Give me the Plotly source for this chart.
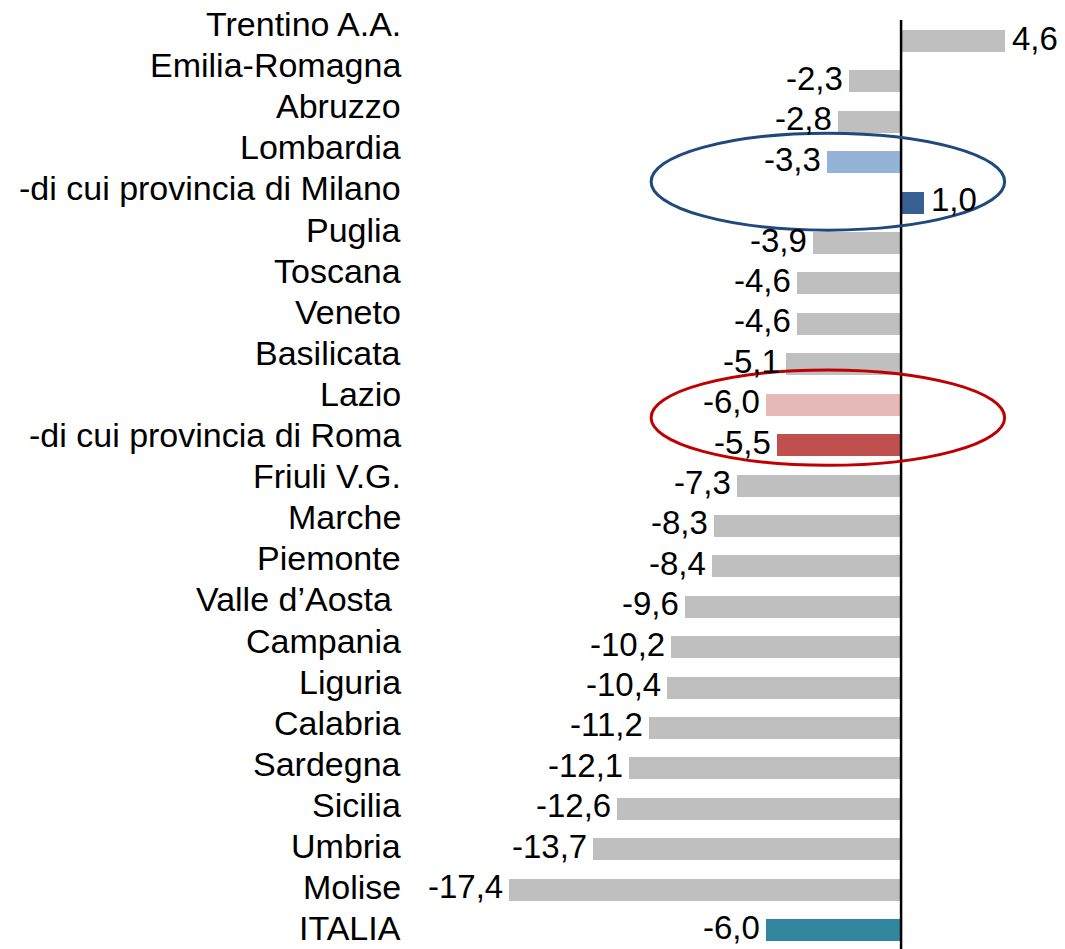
import plotly.graph_objects as go

categories = [
    "Trentino A.A.", "Emilia-Romagna", "Abruzzo", "Lombardia",
    "-di cui provincia di Milano", "Puglia", "Toscana", "Veneto",
    "Basilicata", "Lazio", "-di cui provincia di Roma", "Friuli V.G.",
    "Marche", "Piemonte", "Valle d\u2019Aosta\u00a0", "Campania", "Liguria",
    "Calabria", "Sardegna", "Sicilia", "Umbria", "Molise", "ITALIA",
]
values = [4.6, -2.3, -2.8, -3.3, 1.0, -3.9, -4.6, -4.6, -5.1, -6.0, -5.5,
          -7.3, -8.3, -8.4, -9.6, -10.2, -10.4, -11.2, -12.1, -12.6, -13.7,
          -17.4, -6.0]
value_labels = ["4,6", "-2,3", "-2,8", "-3,3", "1,0", "-3,9", "-4,6", "-4,6",
                "-5,1", "-6,0", "-5,5", "-7,3", "-8,3", "-8,4", "-9,6",
                "-10,2", "-10,4", "-11,2", "-12,1", "-12,6", "-13,7",
                "-17,4", "-6,0"]

GRAY = "#bfbfbf"
special_colors = {
    "Lombardia": "#95b3d7",
    "-di cui provincia di Milano": "#376092",
    "Lazio": "#e6b9b8",
    "-di cui provincia di Roma": "#c0504d",
    "ITALIA": "#31859c",
}
colors = [special_colors.get(c, GRAY) for c in categories]
idx = list(range(len(categories)))

FONT = "Liberation Sans, Arial, sans-serif"

fig = go.Figure()
fig.add_trace(go.Bar(
    x=values, y=idx, orientation="h",
    marker=dict(color=colors, line=dict(width=0)),
    width=0.545, hoverinfo="skip", showlegend=False,
))

annotations = []
# category labels
for i, c in enumerate(categories):
    ann = dict(
        x=-22.1, y=-0.421 + 1.0171 * i, xref="x", yref="y",
        text=c, showarrow=False, xanchor="right", yanchor="middle",
        font=dict(family=FONT, size=34, color="#000000"),
    )
    if i == 0:
        # first label has no descenders: a compact box keeps it inside the page
        ann.update(height=32, valign="middle")
    annotations.append(ann)
# value labels
for i, (v, t) in enumerate(zip(values, value_labels)):
    annotations.append(dict(
        x=v, y=i, xref="x", yref="y", text=t, showarrow=False,
        xanchor="left" if v > 0 else "right", yanchor="middle",
        xshift=5 if v > 0 else -4, yshift=3,
        font=dict(family=FONT, size=33, color="#000000"),
    ))

i_lomb = categories.index("Lombardia")
i_mil = categories.index("-di cui provincia di Milano")
i_laz = categories.index("Lazio")
i_rom = categories.index("-di cui provincia di Roma")

shapes = [
    dict(type="line", xref="x", yref="paper", x0=0, x1=0, y0=0, y1=1,
         line=dict(color="#000000", width=2.5), layer="above"),
    dict(type="circle", xref="x", yref="y", x0=-11.1, x1=4.6,
         y0=i_lomb - 0.72, y1=i_mil + 0.68,
         line=dict(color="#1f497d", width=3), layer="above"),
    dict(type="circle", xref="x", yref="y", x0=-11.1, x1=4.6,
         y0=i_laz - 0.86, y1=i_rom + 0.5,
         line=dict(color="#c00000", width=3), layer="above"),
]

fig.update_layout(
    width=1057, height=941,
    margin=dict(l=0, r=0, t=12, b=0),
    paper_bgcolor="#ffffff", plot_bgcolor="#ffffff",
    xaxis=dict(range=[-39.66, 7.28], visible=False, showgrid=False, zeroline=False),
    yaxis=dict(range=[22.47, -0.52], visible=False, showgrid=False, zeroline=False),
    annotations=annotations, shapes=shapes,
    bargap=0,
)

fig.write_html("out.html")
